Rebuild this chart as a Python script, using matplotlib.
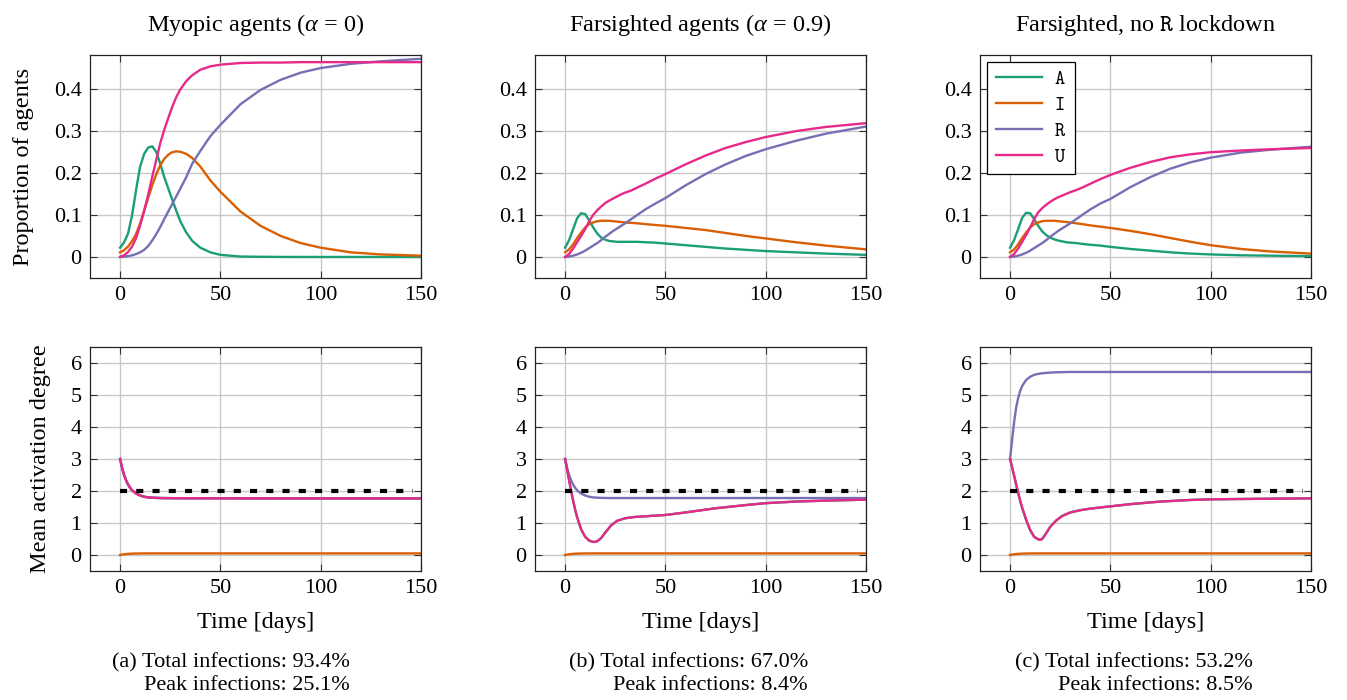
import matplotlib
matplotlib.use("Agg")
import matplotlib.pyplot as plt

plt.rcParams['font.family'] = ['Liberation Serif', 'DejaVu Serif']
plt.rcParams['mathtext.fontset'] = 'custom'
plt.rcParams['mathtext.rm'] = 'Liberation Serif'
plt.rcParams['mathtext.it'] = 'Liberation Serif:italic'
plt.rcParams['mathtext.tt'] = 'cmtt10'

# ---------------- data ----------------
T_TOP = [0, 2, 4, 6, 8, 10, 12, 14, 16, 18, 20, 22, 24, 26, 28, 30, 33, 36, 40, 45, 50,
         60, 70, 80, 90, 100, 115, 130, 150]

# (a) myopic
A1 = [0.022, 0.035, 0.056, 0.10, 0.16, 0.215, 0.245, 0.26, 0.263, 0.25, 0.222, 0.19, 0.163, 0.136, 0.11, 0.085, 0.058, 0.038, 0.022, 0.011, 0.005,
      0.001, 0.0004, 0.0001, 0.0, 0.0, 0.0, 0.0, 0.0]
I1 = [0.011, 0.016, 0.025, 0.038, 0.055, 0.08, 0.11, 0.14, 0.17, 0.196, 0.218, 0.233, 0.243, 0.249, 0.251, 0.25, 0.245, 0.235, 0.215, 0.182, 0.155,
      0.108, 0.074, 0.05, 0.033, 0.022, 0.011, 0.006, 0.003]
R1 = [0.0, 0.0005, 0.002, 0.004, 0.007, 0.011, 0.017, 0.026, 0.039, 0.054, 0.071, 0.09, 0.108, 0.126, 0.144, 0.162, 0.19, 0.222, 0.252, 0.287, 0.314,
      0.363, 0.397, 0.421, 0.438, 0.449, 0.459, 0.465, 0.471]
U1 = [0.0, 0.004, 0.012, 0.025, 0.045, 0.075, 0.11, 0.148, 0.19, 0.23, 0.27, 0.302, 0.33, 0.357, 0.38, 0.398, 0.418, 0.432, 0.445, 0.453, 0.457,
      0.461, 0.462, 0.462, 0.463, 0.463, 0.463, 0.463, 0.463]

# (b) farsighted
A2 = [0.022, 0.04, 0.066, 0.092, 0.104, 0.102, 0.087, 0.07, 0.056, 0.046, 0.041, 0.038, 0.037, 0.036, 0.036, 0.036, 0.036, 0.036, 0.035, 0.034, 0.032,
      0.028, 0.024, 0.02, 0.017, 0.014, 0.011, 0.008, 0.005]
I2 = [0.011, 0.018, 0.03, 0.045, 0.058, 0.07, 0.078, 0.082, 0.085, 0.086, 0.086, 0.086, 0.085, 0.084, 0.083, 0.082, 0.081, 0.08, 0.078, 0.076, 0.074,
      0.069, 0.064, 0.057, 0.05, 0.044, 0.035, 0.027, 0.018]
R2 = [0.0, 0.001, 0.003, 0.006, 0.01, 0.015, 0.021, 0.027, 0.033, 0.04, 0.048, 0.055, 0.062, 0.068, 0.074, 0.08, 0.09, 0.1, 0.113, 0.127, 0.14,
      0.17, 0.197, 0.22, 0.24, 0.256, 0.276, 0.293, 0.31]
U2 = [0.0, 0.007, 0.02, 0.035, 0.05, 0.066, 0.085, 0.1, 0.111, 0.12, 0.128, 0.134, 0.139, 0.144, 0.149, 0.153, 0.158, 0.165, 0.174, 0.186, 0.197,
      0.22, 0.241, 0.259, 0.273, 0.285, 0.299, 0.309, 0.318]

# (c) farsighted, no R lockdown
A3 = [0.022, 0.04, 0.066, 0.093, 0.105, 0.104, 0.09, 0.074, 0.061, 0.052, 0.046, 0.042, 0.039, 0.037, 0.035, 0.034, 0.033, 0.031, 0.029, 0.027, 0.024,
      0.019, 0.015, 0.011, 0.008, 0.006, 0.004, 0.003, 0.002]
I3 = [0.011, 0.018, 0.03, 0.045, 0.058, 0.07, 0.078, 0.082, 0.085, 0.086, 0.086, 0.086, 0.085, 0.084, 0.083, 0.082, 0.08, 0.078, 0.075, 0.072, 0.069,
      0.062, 0.054, 0.045, 0.036, 0.028, 0.019, 0.013, 0.008]
R3 = [0.0, 0.001, 0.003, 0.006, 0.01, 0.015, 0.021, 0.027, 0.033, 0.04, 0.048, 0.055, 0.062, 0.068, 0.074, 0.08, 0.09, 0.1, 0.113, 0.127, 0.138,
      0.166, 0.19, 0.21, 0.225, 0.236, 0.248, 0.255, 0.262]
U3 = [0.0, 0.007, 0.02, 0.036, 0.052, 0.07, 0.09, 0.106, 0.116, 0.124, 0.131, 0.137, 0.142, 0.146, 0.15, 0.154, 0.159, 0.165, 0.174, 0.185, 0.195,
      0.212, 0.226, 0.237, 0.244, 0.249, 0.253, 0.256, 0.259]

T_BOT = [0, 1, 2, 3, 4, 5, 6, 8, 10, 12, 14, 15, 16, 18, 20, 23, 26, 30, 35, 40, 50, 60, 75, 90, 100, 115, 130, 150]

# (a) mean activation degree (A = R = U)
D_A1 = [3.0, 2.72, 2.5, 2.33, 2.2, 2.1, 2.02, 1.92, 1.86, 1.82, 1.8, 1.795, 1.79, 1.785, 1.78, 1.778, 1.776, 1.775, 1.774, 1.773, 1.772, 1.771, 1.77, 1.77, 1.77, 1.77, 1.77, 1.77]
D_I1 = [0.0, 0.012, 0.022, 0.03, 0.036, 0.04, 0.043, 0.046, 0.048, 0.049, 0.05, 0.05, 0.05, 0.05, 0.05, 0.05, 0.05, 0.05, 0.05, 0.05, 0.05, 0.05, 0.05, 0.05, 0.05, 0.05, 0.05, 0.05]
D_R1 = D_A1
D_U1 = D_A1

# (b)
D_R2 = [3.0, 2.72, 2.5, 2.33, 2.2, 2.1, 2.02, 1.92, 1.86, 1.82, 1.8, 1.795, 1.79, 1.785, 1.782, 1.78, 1.78, 1.78, 1.78, 1.78, 1.78, 1.78, 1.78, 1.78, 1.78, 1.78, 1.78, 1.78]
D_U2 = [3.0, 2.67, 2.34, 2.0, 1.7, 1.42, 1.18, 0.8, 0.57, 0.45, 0.41, 0.41, 0.43, 0.53, 0.7, 0.93, 1.07, 1.15, 1.19, 1.21, 1.25, 1.33, 1.46, 1.56, 1.62, 1.67, 1.7, 1.73]
D_A2 = D_U2
D_I2 = D_I1

# (c)
D_R3 = [3.0, 3.6, 4.15, 4.6, 4.9, 5.12, 5.28, 5.47, 5.57, 5.63, 5.66, 5.67, 5.68, 5.69, 5.7, 5.71, 5.715, 5.72, 5.72, 5.72, 5.72, 5.72, 5.72, 5.72, 5.72, 5.72, 5.72, 5.72]
D_U3 = [3.0, 2.74, 2.48, 2.21, 1.95, 1.7, 1.48, 1.1, 0.78, 0.57, 0.49, 0.48, 0.5, 0.68, 0.88, 1.08, 1.22, 1.33, 1.4, 1.45, 1.52, 1.59, 1.67, 1.72, 1.74, 1.75, 1.76, 1.77]
D_A3 = D_U3
D_I3 = D_I1

THRESHOLD = 2.0
LABELS = ['A', 'I', 'R', 'U']
COLORS = ['#1b9e77', '#d95f02', '#7570b3', '#e7298a']
TITLES = [r'Myopic agents ($\alpha$ = 0)', r'Farsighted agents ($\alpha$ = 0.9)',
          r'Farsighted, no $\mathtt{R}$ lockdown']
CAPTIONS = [('(a) Total infections: 93.4%', 'Peak infections: 25.1%'),
            ('(b) Total infections: 67.0%', 'Peak infections: 8.4%'),
            ('(c) Total infections: 53.2%', 'Peak infections: 8.5%')]

TOP = [(A1, I1, R1, U1), (A2, I2, R2, U2), (A3, I3, R3, U3)]
BOT = [(D_A1, D_I1, D_R1, D_U1), (D_A2, D_I2, D_R2, D_U2), (D_A3, D_I3, D_R3, D_U3)]

# ---------------- figure ----------------
W, H = 1347, 700
fig = plt.figure(figsize=(W / 100, H / 100), dpi=100)
FS_TICK = 16
FS_LAB = 17.5
FS_CAP = 16

lefts = [90, 535, 980]
aw = 331
top_y0, top_y1 = 55, 278
bot_y0, bot_y1 = 347, 571


def style(ax):
    ax.grid(True, color='#c8c8c8', lw=1.0)
    ax.set_axisbelow(True)
    ax.tick_params(direction='in', length=5, width=0.8, color='#333333',
                   top=True, right=True, labelsize=FS_TICK, pad=6)
    for s in ax.spines.values():
        s.set_color('#222222')
        s.set_linewidth(0.9)


for c in range(3):
    x0 = lefts[c] / W
    # top
    ax = fig.add_axes([x0, 1 - top_y1 / H, aw / W, (top_y1 - top_y0) / H])
    style(ax)
    for vals, lab, col in zip(TOP[c], LABELS, COLORS):
        ax.plot(T_TOP, vals, color=col, lw=1.7, label=r'$\mathtt{%s}$' % lab)
    ax.set_xlim(-15, 150)
    ax.set_ylim(-0.05, 0.48)
    ax.set_xticks([0, 50, 100, 150])
    ax.set_yticks([0, 0.1, 0.2, 0.3, 0.4])
    ax.set_yticklabels(['0', '0.1', '0.2', '0.3', '0.4'])
    ax.set_title(TITLES[c], fontsize=FS_LAB, pad=17)
    if c == 0:
        ax.set_ylabel('Proportion of agents', fontsize=FS_LAB, labelpad=14)
    if c == 2:
        leg = ax.legend(loc='upper left', fontsize=14, frameon=True, fancybox=False,
                        edgecolor='black', framealpha=1, handlelength=2.4,
                        borderpad=0.45, labelspacing=0.42, borderaxespad=0.35,
                        handletextpad=0.6)
        leg.get_frame().set_linewidth(0.9)

    # bottom
    ax2 = fig.add_axes([x0, 1 - bot_y1 / H, aw / W, (bot_y1 - bot_y0) / H])
    style(ax2)
    for vals, lab, col in zip(BOT[c], LABELS, COLORS):
        ax2.plot(T_BOT, vals, color=col, lw=1.7)
    ax2.plot([0, 146], [THRESHOLD, THRESHOLD], color='black', lw=3.0,
             dashes=(1.7, 2.2), zorder=5)
    ax2.set_xlim(-15, 150)
    ax2.set_ylim(-0.5, 6.5)
    ax2.set_xticks([0, 50, 100, 150])
    ax2.set_yticks(range(0, 7))
    ax2.set_xlabel('Time [days]', fontsize=FS_LAB, labelpad=10)
    if c == 0:
        ax2.set_ylabel('Mean activation degree', fontsize=FS_LAB, labelpad=14)

    # caption
    rx = [350, 808, 1253][c] / W
    fig.text(rx, 1 - 663 / H, CAPTIONS[c][0], ha='right', va='center', fontsize=FS_CAP)
    fig.text(rx, 1 - 686 / H, CAPTIONS[c][1], ha='right', va='center', fontsize=FS_CAP)

fig.savefig('out.png', dpi=100)
